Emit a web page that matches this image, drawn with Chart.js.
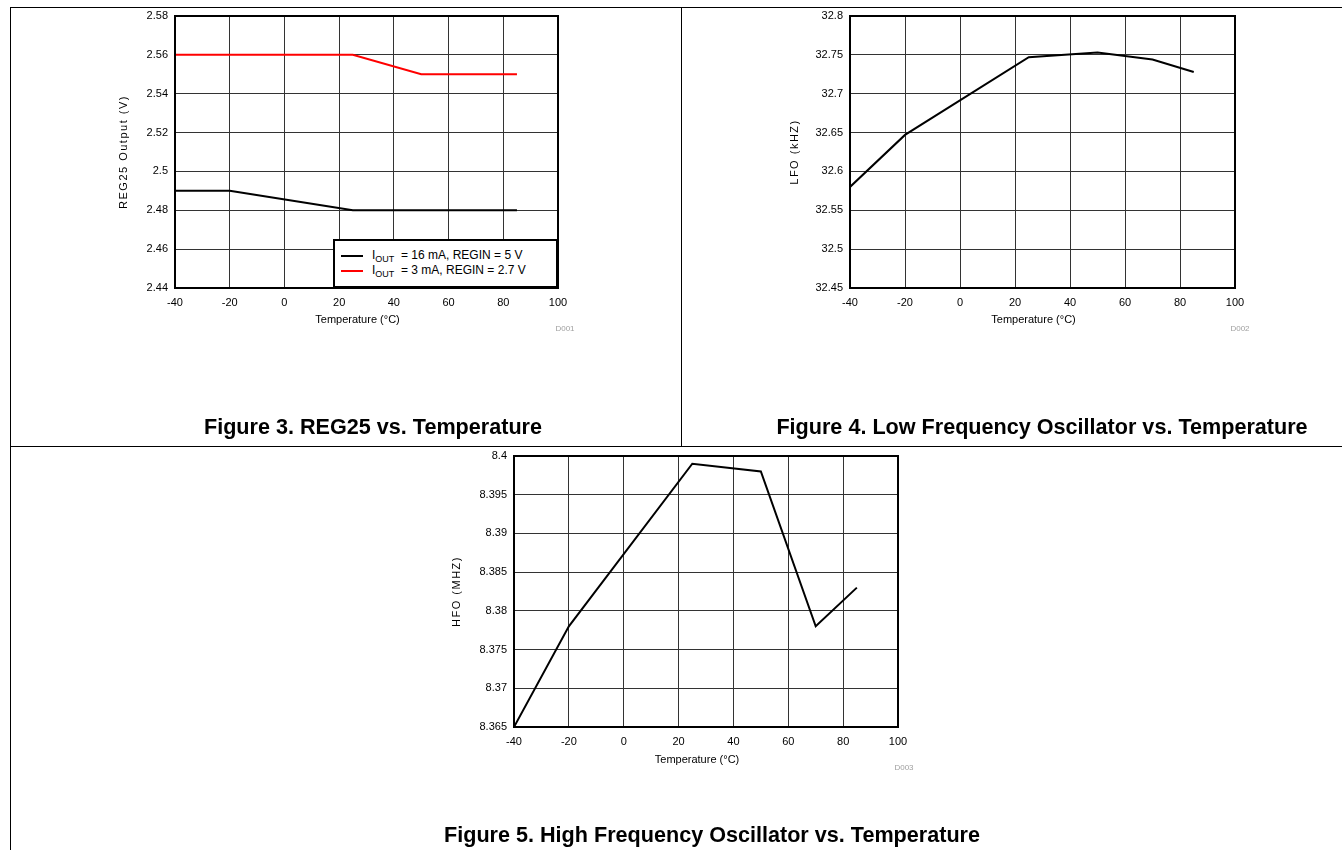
<!DOCTYPE html>
<html>
<head>
<meta charset="utf-8">
<script src="https://cdn.jsdelivr.net/npm/chart.js@4/dist/chart.umd.min.js"></script>
<style>
  html, body { margin: 0; padding: 0; background: #fff; }
  body { width: 1342px; height: 850px; position: relative; overflow: hidden; font-family: "Liberation Sans", Arial, sans-serif; }
  canvas { position: absolute; }
  .hl { position: absolute; height: 1px; background: #000; }
  .vl { position: absolute; width: 1px; background: #000; }
  .cap { position: absolute; font-weight: bold; font-size: 21.6px; color: #000; white-space: nowrap; transform: translate(-50%, -50%); }
  .dlab { position: absolute; font-size: 8px; color: #a0a0a0; transform: translate(-50%, -50%); }
  #legend1 { position: absolute; left: 333px; top: 239px; width: 221px; height: 45px; background: #fff; border: 2px solid #000; font-size: 12px; color: #000; }
  #legend1 .row { position: absolute; left: 0; height: 14px; line-height: 14px; white-space: nowrap; }
  #legend1 .sw { position: absolute; left: 6px; top: 7px; width: 22px; height: 2px; }
  #legend1 .tx { position: absolute; left: 37px; top: 0; }
  #legend1 sub { font-size: 9px; vertical-align: -3px; line-height: 0; }
</style>
</head>
<body>
<div class="hl" style="left:10px; top:7px; width:1332px;"></div>
<div class="vl" style="left:10px; top:7px; height:843px;"></div>
<div class="vl" style="left:681px; top:7px; height:439px;"></div>
<div class="hl" style="left:10px; top:446px; width:1332px;"></div>

<canvas id="c1" width="680" height="440" style="left:0px; top:0px;"></canvas>
<canvas id="c2" width="661" height="440" style="left:681px; top:0px;"></canvas>
<canvas id="c3" width="1342" height="410" style="left:0px; top:440px;"></canvas>

<div id="legend1"></div>

<div class="dlab" style="left:565px; top:328px;">D001</div>
<div class="dlab" style="left:1240px; top:328px;">D002</div>
<div class="dlab" style="left:904px; top:767px;">D003</div>

<div class="cap" style="left:373px; top:427px;">Figure 3. REG25 vs. Temperature</div>
<div class="cap" style="left:1042px; top:427px;">Figure 4. Low Frequency Oscillator vs. Temperature</div>
<div class="cap" style="left:712px; top:835px;">Figure 5. High Frequency Oscillator vs. Temperature</div>

<script>
// ---- Data ----
const temps = [-40, -20, 25, 50, 70, 85];
const tempTicks = [-40, -20, 0, 20, 40, 60, 80, 100];

const reg25Labels = ['IOUT = 16 mA, REGIN = 5 V', 'IOUT = 3 mA, REGIN = 2.7 V'];
const reg25Iout16 = [2.49, 2.49, 2.48, 2.48, 2.48, 2.48];
const reg25Iout3 = [2.56, 2.56, 2.56, 2.55, 2.55, 2.55];
const reg25Ticks = [2.44, 2.46, 2.48, 2.5, 2.52, 2.54, 2.56, 2.58];

const lfoValues = [32.58, 32.647, 32.747, 32.753, 32.744, 32.728];
const lfoTicks = [32.45, 32.5, 32.55, 32.6, 32.65, 32.7, 32.75, 32.8];

const hfoValues = [8.365, 8.378, 8.399, 8.398, 8.378, 8.383];
const hfoTicks = [8.365, 8.37, 8.375, 8.38, 8.385, 8.39, 8.395, 8.4];

// ---- Setup ----
Chart.defaults.font.family = '"Liberation Sans", Arial, sans-serif';
Chart.defaults.font.size = 11;
Chart.defaults.color = '#000';

const boxPlugin = {
  id: 'plotBox',
  afterDraw(chart) {
    const a = chart.chartArea, ctx = chart.ctx;
    ctx.save();
    ctx.strokeStyle = '#000';
    ctx.lineWidth = 2;
    ctx.strokeRect(a.left, a.top, a.right - a.left, a.bottom - a.top);
    ctx.restore();
  }
};

function pts(xs, ys) { return xs.map((x, i) => ({ x: x, y: ys[i] })); }

function patchTitle(s, fn) {
  if (s._titlePatched) return;
  const orig = s.drawTitle;
  s.drawTitle = function () {
    this.ctx.save();
    fn(this.ctx);
    orig.apply(this, arguments);
    this.ctx.restore();
  };
  s._titlePatched = true;
}

function makeChart(id, datasets, yTicks, yTitle, pad, yTitlePad, xTitlePad) {
  return new Chart(document.getElementById(id), {
    type: 'line',
    data: { datasets: datasets },
    options: {
      responsive: false,
      animation: false,
      devicePixelRatio: 1,
      layout: { padding: pad },
      plugins: { legend: { display: false }, tooltip: { enabled: false } },
      elements: { point: { radius: 0 }, line: { tension: 0, borderWidth: 2 } },
      scales: {
        x: {
          type: 'linear',
          min: tempTicks[0], max: tempTicks[tempTicks.length - 1],
          afterBuildTicks(s) { s.ticks = tempTicks.map(v => ({ value: v })); },
          afterFit(s) {
            s.height = 40;
            patchTitle(s, ctx => ctx.translate(-9, 0));
          },
          grid: { color: '#333', lineWidth: 1, drawTicks: false },
          border: { display: false },
          ticks: { padding: 8, maxRotation: 0, autoSkip: false, callback: v => String(v) },
          title: { display: true, text: 'Temperature (°C)', padding: { top: 0, bottom: xTitlePad } }
        },
        y: {
          type: 'linear',
          min: yTicks[0], max: yTicks[yTicks.length - 1],
          afterBuildTicks(s) { s.ticks = yTicks.map(v => ({ value: v })); },
          afterFit(s) {
            s.width = 70;
            patchTitle(s, ctx => { try { ctx.letterSpacing = '1.5px'; } catch (e) {} });
          },
          grid: { color: '#333', lineWidth: 1, drawTicks: false },
          border: { display: false },
          ticks: { padding: 7, autoSkip: false, callback: v => String(v) },
          title: { display: true, text: yTitle, padding: { top: yTitlePad, bottom: 0 } }
        }
      }
    },
    plugins: [boxPlugin]
  });
}

const chart1 = makeChart('c1', [
  { label: reg25Labels[0], data: pts(temps, reg25Iout16), borderColor: '#000', backgroundColor: '#000' },
  { label: reg25Labels[1], data: pts(temps, reg25Iout3), borderColor: '#ff0000', backgroundColor: '#ff0000' }
], reg25Ticks, 'REG25 Output (V)', { left: 105, right: 122, top: 16, bottom: 112 }, 12, 1);

const chart2 = makeChart('c2', [
  { label: 'LFO', data: pts(temps, lfoValues), borderColor: '#000', backgroundColor: '#000' }
], lfoTicks, 'LFO (kHZ)', { left: 99, right: 107, top: 16, bottom: 112 }, 8, 1);

const chart3 = makeChart('c3', [
  { label: 'HFO', data: pts(temps, hfoValues), borderColor: '#000', backgroundColor: '#000' }
], hfoTicks, 'HFO (MHZ)', { left: 444, right: 444, top: 16, bottom: 83 }, 6, 0);

// HTML legend built from chart 1 datasets
(function () {
  const box = document.getElementById('legend1');
  chart1.data.datasets.forEach((ds, i) => {
    const row = document.createElement('div');
    row.className = 'row';
    row.style.top = (7 + i * 15) + 'px';
    const sw = document.createElement('div');
    sw.className = 'sw';
    sw.style.background = ds.borderColor;
    const tx = document.createElement('div');
    tx.className = 'tx';
    tx.innerHTML = ds.label.replace(/^IOUT/, 'I<sub>OUT</sub>&nbsp;');
    row.appendChild(sw); row.appendChild(tx);
    box.appendChild(row);
  });
})();
</script>
</body>
</html>
